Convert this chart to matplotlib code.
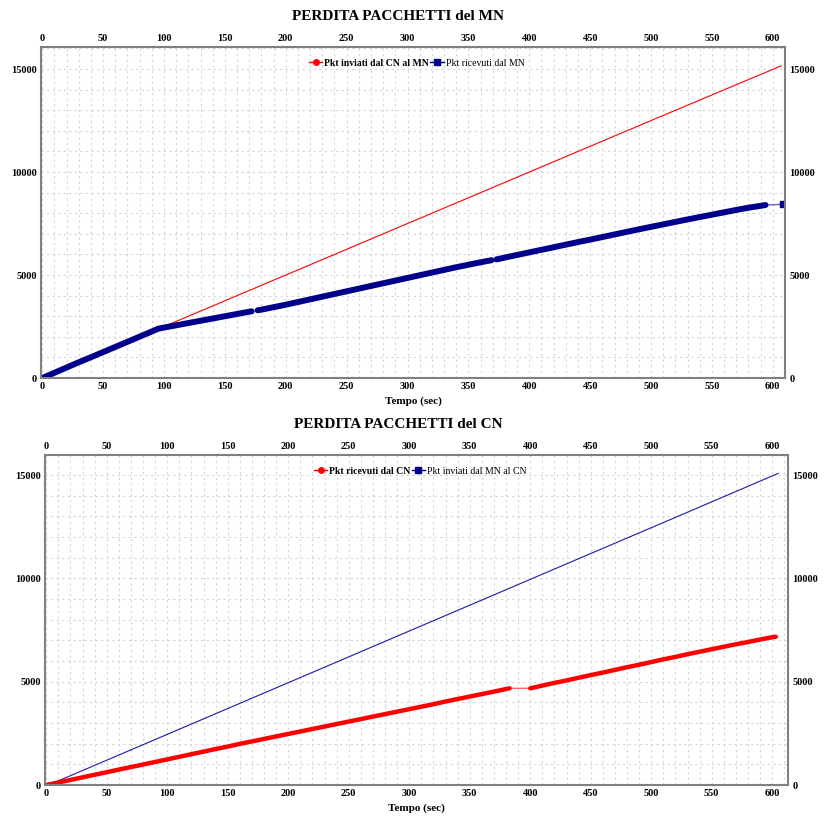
import numpy as np
import matplotlib
matplotlib.use("Agg")
import matplotlib.pyplot as plt
from matplotlib.lines import Line2D
from matplotlib.ticker import MultipleLocator

plt.rcParams['font.family'] = ['Liberation Serif', 'DejaVu Serif']

# --- dati ---
# Pannello 1: perdita pacchetti del MN
mn_sent_t = [0, 95, 200, 300, 400, 500, 607]
mn_sent_v = [0, 2375, 5000, 7500, 10000, 12500, 15160]

mn_recv_t = [0, 10, 20, 30, 40, 50, 60, 70, 80, 90, 95,
             100, 110, 120, 130, 140, 150, 160, 170, 172, 177, 180, 190,
             200, 210, 220, 230, 240, 250, 260, 270, 280, 290,
             300, 310, 320, 330, 340, 350, 360, 369, 373, 380, 390,
             400, 410, 420, 430, 440, 450, 460, 470, 480, 490,
             500, 510, 520, 530, 540, 550, 560, 570, 580, 590, 594, 608]
mn_recv_v = [0, 255, 510, 765, 1010, 1260, 1510, 1760, 2010, 2260, 2390,
             2450, 2560, 2670, 2780, 2890, 3000, 3110, 3220, 3240, 3290, 3320, 3440,
             3560, 3690, 3820, 3950, 4080, 4210, 4340, 4470, 4600, 4730,
             4860, 4990, 5120, 5250, 5380, 5500, 5620, 5720, 5760, 5850, 5975,
             6100, 6225, 6350, 6475, 6600, 6720, 6845, 6970, 7095, 7220,
             7340, 7460, 7580, 7700, 7815, 7930, 8045, 8160, 8270, 8360, 8400, 8430]
mn_recv_gaps = [172, 369, 594]   # istanti in cui inizia un buco

# Pannello 2: perdita pacchetti del CN
cn_recv_t = [0, 10, 20, 30, 40, 50, 60, 70, 80, 90,
             100, 110, 120, 130, 140, 150, 160, 170, 180, 190,
             200, 210, 220, 230, 240, 250, 260, 270, 280, 290,
             300, 310, 320, 330, 340, 350, 360, 370, 383, 400,
             410, 420, 430, 440, 450, 460, 470, 480, 490,
             500, 510, 520, 530, 540, 550, 560, 570, 580, 590, 600, 603]
cn_recv_v = [0, 120, 245, 370, 495, 620, 745, 870, 990, 1115,
             1240, 1365, 1490, 1615, 1740, 1860, 1990, 2110, 2230, 2350,
             2470, 2590, 2710, 2830, 2950, 3070, 3190, 3310, 3430, 3550,
             3670, 3790, 3910, 4040, 4160, 4280, 4400, 4520, 4680, 4680,
             4810, 4940, 5060, 5190, 5320, 5440, 5570, 5700, 5820,
             5950, 6080, 6200, 6330, 6450, 6570, 6690, 6810, 6920, 7040, 7150, 7175]
cn_recv_gaps = [383]

cn_sent_t = [2, 100, 200, 300, 400, 500, 605]
cn_sent_v = [0, 2450, 4950, 7450, 9950, 12450, 15080]

RED = "#ff0000"
BLUE = "#00008b"
GRID_C = "#d4d4d4"
SPINE_C = "#808080"


def plot_band(ax, t, v, gaps, color, marker, lw, ms):
    """Linea sottile su tutti i punti + banda spessa interrotta nei buchi."""
    t = np.array(t, float)
    v = np.array(v, float)
    ax.plot(t, v, color=color, lw=1.0, alpha=0.6)
    cuts = [int(np.searchsorted(t, g)) + 1 for g in gaps]
    for st, sv in zip(np.split(t, cuts), np.split(v, cuts)):
        if len(st) == 1:
            ax.plot(st, sv, color=color, marker=marker, ms=ms, lw=0)
        else:
            ax.plot(st, sv, color=color, lw=lw, solid_capstyle="round",
                    solid_joinstyle="round")


def style_axes(ax, xmax, ymax):
    ax.set_xlim(-1, xmax)
    ax.set_ylim(0, ymax)
    ax.xaxis.set_major_locator(MultipleLocator(50))
    ax.xaxis.set_minor_locator(MultipleLocator(10))
    ax.yaxis.set_major_locator(MultipleLocator(5000))
    ax.yaxis.set_minor_locator(MultipleLocator(1000))
    ax.grid(True, which="both", color=GRID_C, linestyle=(0, (2, 3)), lw=0.8)
    ax.set_axisbelow(True)
    ax.tick_params(which="both", length=0, labelsize=7.5, pad=3,
                   labeltop=True, labelright=True)
    for lab in ax.get_xticklabels() + ax.get_yticklabels():
        lab.set_fontweight("bold")
    for sp in ax.spines.values():
        sp.set_color(SPINE_C)
        sp.set_linewidth(1.5)
    ax.set_xlabel("Tempo (sec)", fontsize=8, fontweight="bold", labelpad=4)


def add_legend(ax, labels):
    handles = [Line2D([], [], color=RED, lw=1, marker="o", ms=4),
               Line2D([], [], color=BLUE, lw=1, marker="s", ms=4)]
    leg = ax.legend(handles, labels, loc="upper center", ncol=2, frameon=False,
                    fontsize=7, handlelength=1.4, handletextpad=0.2,
                    columnspacing=0.1, borderaxespad=0.8,
                    bbox_to_anchor=(0.505, 1.0))
    leg.get_texts()[0].set_fontweight("bold")


fig = plt.figure(figsize=(8.27, 8.22), dpi=100)

# --- pannello MN ---
ax1 = fig.add_axes([0.0496, 0.5401, 0.8996, 0.4027])
ax1.plot(mn_sent_t, mn_sent_v, color=RED, lw=0.8)
plot_band(ax1, mn_recv_t, mn_recv_v, mn_recv_gaps, BLUE, "s", 4.3, 4.0)
style_axes(ax1, 610, 16070)
add_legend(ax1, ["Pkt inviati dal CN al MN", "Pkt ricevuti dal MN"])
fig.text(398 / 827, 1 - 17 / 822, "PERDITA PACCHETTI del MN", ha="center",
         va="center", fontsize=11, fontweight="bold")

# --- pannello CN ---
ax2 = fig.add_axes([0.0544, 0.045, 0.8984, 0.4015])
ax2.plot(cn_sent_t, cn_sent_v, color="#1a1aa6", lw=0.8)
plot_band(ax2, cn_recv_t, cn_recv_v, cn_recv_gaps, RED, "o", 3.2, 3.2)
style_axes(ax2, 613, 15970)
add_legend(ax2, ["Pkt ricevuti dal CN", "Pkt inviati dal MN al CN"])
fig.text(398 / 827, 1 - 424 / 822, "PERDITA PACCHETTI del CN", ha="center",
         va="center", fontsize=11, fontweight="bold")

fig.savefig("out.png", dpi=100)
